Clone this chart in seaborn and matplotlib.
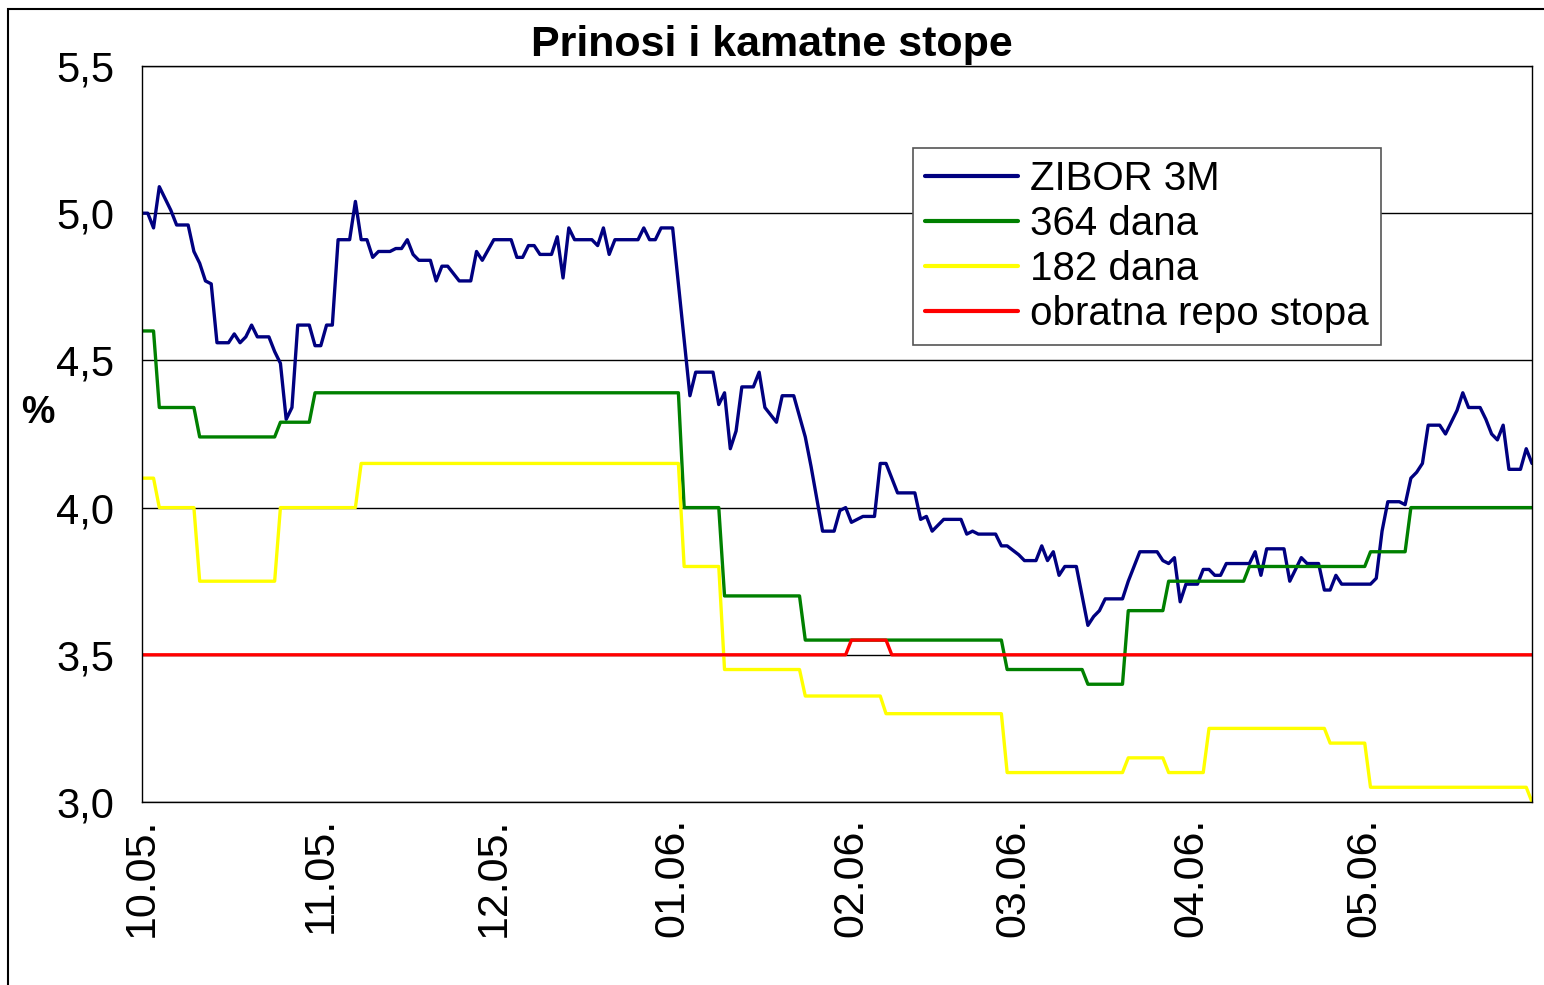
import pandas as pd
import numpy as np
import matplotlib
matplotlib.use("Agg")
import matplotlib.pyplot as plt
import matplotlib.dates as mdates
from matplotlib.ticker import FuncFormatter, MultipleLocator
from matplotlib.patches import Rectangle
import seaborn as sns

sns.set_style("white")
plt.rcParams['font.family'] = ['Liberation Sans', 'DejaVu Sans']
plt.rcParams['text.color'] = 'black'
plt.rcParams['xtick.color'] = 'black'
plt.rcParams['ytick.color'] = 'black'
plt.rcParams['axes.labelcolor'] = 'black'

# ZIBOR 3M (daily fixings)
zibor_dates = ["2005-10-01", "2005-10-02", "2005-10-03", "2005-10-04", "2005-10-05", "2005-10-06", "2005-10-07",
               "2005-10-09", "2005-10-10", "2005-10-11", "2005-10-12", "2005-10-13", "2005-10-14", "2005-10-16",
               "2005-10-17", "2005-10-18", "2005-10-19", "2005-10-20", "2005-10-21", "2005-10-23", "2005-10-24",
               "2005-10-25", "2005-10-26", "2005-10-27", "2005-10-28", "2005-10-30", "2005-10-31",
               "2005-11-01", "2005-11-02", "2005-11-03", "2005-11-04", "2005-11-06", "2005-11-07", "2005-11-08",
               "2005-11-09", "2005-11-10", "2005-11-11", "2005-11-13", "2005-11-14", "2005-11-15", "2005-11-16",
               "2005-11-17", "2005-11-18", "2005-11-20", "2005-11-21", "2005-11-22", "2005-11-23", "2005-11-25",
               "2005-11-27", "2005-11-28", "2005-11-29",
               "2005-12-01", "2005-12-04", "2005-12-05", "2005-12-06", "2005-12-07", "2005-12-08", "2005-12-09",
               "2005-12-11", "2005-12-12", "2005-12-13", "2005-12-14", "2005-12-15", "2005-12-18", "2005-12-19",
               "2005-12-20", "2005-12-21", "2005-12-22", "2005-12-26", "2005-12-27", "2005-12-28", "2005-12-29",
               "2005-12-30",
               "2006-01-01", "2006-01-04", "2006-01-05", "2006-01-08", "2006-01-09", "2006-01-10", "2006-01-11",
               "2006-01-12", "2006-01-13", "2006-01-15", "2006-01-16", "2006-01-17", "2006-01-19", "2006-01-20",
               "2006-01-22", "2006-01-23", "2006-01-24", "2006-01-25", "2006-01-27", "2006-01-29", "2006-01-30",
               "2006-01-31",
               "2006-02-01", "2006-02-02", "2006-02-03", "2006-02-05", "2006-02-06", "2006-02-07", "2006-02-08",
               "2006-02-09", "2006-02-12", "2006-02-13", "2006-02-14", "2006-02-15", "2006-02-17", "2006-02-20",
               "2006-02-21", "2006-02-22", "2006-02-23", "2006-02-26", "2006-02-27", "2006-02-28",
               "2006-03-02", "2006-03-03", "2006-03-05", "2006-03-06", "2006-03-07", "2006-03-08", "2006-03-09",
               "2006-03-10", "2006-03-12", "2006-03-13", "2006-03-14", "2006-03-15", "2006-03-16", "2006-03-17",
               "2006-03-20", "2006-03-21", "2006-03-22", "2006-03-23", "2006-03-26", "2006-03-27", "2006-03-28",
               "2006-03-29", "2006-03-30", "2006-03-31",
               "2006-04-02", "2006-04-03", "2006-04-04", "2006-04-05", "2006-04-06", "2006-04-07", "2006-04-11",
               "2006-04-12", "2006-04-13", "2006-04-14", "2006-04-17", "2006-04-18", "2006-04-20", "2006-04-21",
               "2006-04-23", "2006-04-24", "2006-04-25", "2006-04-26", "2006-04-27",
               "2006-05-02", "2006-05-03", "2006-05-04", "2006-05-05", "2006-05-07", "2006-05-08", "2006-05-09",
               "2006-05-10", "2006-05-11", "2006-05-12", "2006-05-14", "2006-05-15", "2006-05-17", "2006-05-18",
               "2006-05-19", "2006-05-21", "2006-05-22", "2006-05-23", "2006-05-24", "2006-05-25", "2006-05-26",
               "2006-05-28", "2006-05-29", "2006-05-30"]
zibor_vals = [5.00, 5.00, 4.95, 5.09, 5.05, 5.01, 4.96, 4.96, 4.87, 4.83, 4.77, 4.76, 4.56, 4.56, 4.59, 4.56,
              4.58, 4.62, 4.58, 4.58, 4.53, 4.49, 4.30, 4.34, 4.62, 4.62, 4.55,
              4.55, 4.62, 4.62, 4.91, 4.91, 5.04, 4.91, 4.91, 4.85, 4.87, 4.87, 4.88, 4.88, 4.91, 4.86, 4.84,
              4.84, 4.77, 4.82, 4.82, 4.77, 4.77, 4.87, 4.84,
              4.91, 4.91, 4.85, 4.85, 4.89, 4.89, 4.86, 4.86, 4.92, 4.78, 4.95, 4.91, 4.91, 4.89, 4.95, 4.86,
              4.91, 4.91, 4.95, 4.91, 4.91, 4.95,
              4.95, 4.38, 4.46, 4.46, 4.35, 4.39, 4.20, 4.26, 4.41, 4.41, 4.46, 4.34, 4.29, 4.38, 4.38, 4.31,
              4.24, 4.14, 3.92, 3.92, 3.99, 4.00,
              3.95, 3.96, 3.97, 3.97, 4.15, 4.15, 4.10, 4.05, 4.05, 3.96, 3.97, 3.92, 3.96, 3.96, 3.91, 3.92,
              3.91, 3.91, 3.87, 3.87,
              3.84, 3.82, 3.82, 3.87, 3.82, 3.85, 3.77, 3.80, 3.80, 3.70, 3.60, 3.63, 3.65, 3.69, 3.69, 3.75,
              3.80, 3.85, 3.85, 3.82, 3.81, 3.83, 3.68, 3.74,
              3.74, 3.79, 3.79, 3.77, 3.77, 3.81, 3.81, 3.85, 3.77, 3.86, 3.86, 3.75, 3.83, 3.81, 3.81, 3.72,
              3.72, 3.77, 3.74,
              3.74, 3.76, 3.92, 4.02, 4.02, 4.01, 4.10, 4.12, 4.15, 4.28, 4.28, 4.25, 4.33, 4.39, 4.34, 4.34,
              4.30, 4.25, 4.23, 4.28, 4.13, 4.13, 4.20, 4.15]

# 364-day T-bill yield (step changes at auctions)
t364_dates = ["2005-10-01", "2005-10-03", "2005-10-04", "2005-10-10", "2005-10-11", "2005-10-24", "2005-10-25",
              "2005-10-30", "2005-10-31", "2006-01-02", "2006-01-03", "2006-01-09", "2006-01-10", "2006-01-23",
              "2006-01-24", "2006-02-27", "2006-02-28", "2006-03-13", "2006-03-14", "2006-03-20", "2006-03-21",
              "2006-03-27", "2006-03-28", "2006-04-10", "2006-04-11", "2006-05-01", "2006-05-02", "2006-05-08",
              "2006-05-09", "2006-05-30"]
t364_vals = [4.60, 4.60, 4.34, 4.34, 4.24, 4.24, 4.29, 4.29, 4.39, 4.39, 4.00, 4.00, 3.70, 3.70, 3.55,
             3.55, 3.45, 3.45, 3.40, 3.40, 3.65, 3.65, 3.75, 3.75, 3.80, 3.80, 3.85, 3.85, 4.00, 4.00]

# 182-day T-bill yield
t182_dates = ["2005-10-01", "2005-10-03", "2005-10-04", "2005-10-10", "2005-10-11", "2005-10-24", "2005-10-25",
              "2005-11-07", "2005-11-08", "2006-01-02", "2006-01-03", "2006-01-09", "2006-01-10", "2006-01-23",
              "2006-01-24", "2006-02-06", "2006-02-07", "2006-02-27", "2006-02-28", "2006-03-20", "2006-03-21",
              "2006-03-27", "2006-03-28", "2006-04-03", "2006-04-04", "2006-04-24", "2006-04-25", "2006-05-01",
              "2006-05-02", "2006-05-29", "2006-05-30"]
t182_vals = [4.10, 4.10, 4.00, 4.00, 3.75, 3.75, 4.00, 4.00, 4.15, 4.15, 3.80, 3.80, 3.45, 3.45, 3.36, 3.36,
             3.30, 3.30, 3.10, 3.10, 3.15, 3.15, 3.10, 3.10, 3.25, 3.25, 3.20, 3.20, 3.05, 3.05, 3.00]

# reverse repo rate
repo_dates = ["2005-10-01", "2006-01-31", "2006-02-01", "2006-02-07", "2006-02-08", "2006-05-30"]
repo_vals = [3.50, 3.50, 3.55, 3.55, 3.50, 3.50]

series_names = ["ZIBOR 3M", "364 dana", "182 dana", "obratna repo stopa"]
series_colors = ["#000080", "#008000", "#FFFF00", "#FF0000"]

frames = []
for name, d, v in zip(series_names,
                      [zibor_dates, t364_dates, t182_dates, repo_dates],
                      [zibor_vals, t364_vals, t182_vals, repo_vals]):
    frames.append(pd.DataFrame({"datum": pd.to_datetime(d), "stopa": v, "serija": name}))
df = pd.concat(frames, ignore_index=True)

fig = plt.figure(figsize=(15.44, 9.85), dpi=100)
ax = fig.add_axes([142 / 1544, 1 - 802 / 985, (1532 - 142) / 1544, (802 - 66) / 985])

sns.lineplot(data=df, x="datum", y="stopa", hue="serija", hue_order=series_names,
             palette=dict(zip(series_names, series_colors)), estimator=None, sort=False,
             linewidth=2.4, ax=ax)

ax.set_xlim(pd.Timestamp("2005-10-01"), pd.Timestamp("2006-05-30"))
ax.set_ylim(3.0, 5.5)
ax.yaxis.set_major_locator(MultipleLocator(0.5))
ax.yaxis.set_major_formatter(FuncFormatter(lambda v, p: f"{v:.1f}".replace(".", ",")))
ax.xaxis.set_major_locator(mdates.MonthLocator())
ax.xaxis.set_major_formatter(mdates.DateFormatter("%m.%y."))
ax.tick_params(axis="x", labelsize=31, rotation=90, direction="out", length=7, width=1, pad=4, color="black")
ax.tick_params(axis="y", labelsize=30, direction="out", length=7, width=1, pad=13, color="black")
ax.yaxis.grid(True, color="black", linewidth=1)
ax.xaxis.grid(False)
for s in ax.spines.values():
    s.set_color("black")
    s.set_linewidth(1)
ax.set_xlabel("")
ax.set_ylabel("")

handles, labels = ax.get_legend_handles_labels()
leg = ax.legend(handles, labels, loc="upper left", bbox_to_anchor=(0.5547, 0.8886),
                fontsize=29, frameon=True, fancybox=False, framealpha=1, edgecolor="#555555",
                handlelength=2.3, handletextpad=0.3, labelspacing=0.17, borderpad=0.3, borderaxespad=0)
leg.get_frame().set_linewidth(1.2)
for h in leg.get_lines():
    h.set_linewidth(3)

fig.text(0.5, 1 - 45 / 985, "Prinosi i kamatne stope", ha="center", va="center",
         fontsize=31, fontweight="bold")
fig.text(38 / 1544, 1 - 413 / 985, "%", ha="center", va="center", fontsize=27, fontweight="bold")

# outer chart border like the Excel chart area
fig.patches.append(Rectangle((8 / 1544, -0.05), 1.2, 1 - 9 / 985 + 0.05, transform=fig.transFigure,
                             fill=False, edgecolor="black", linewidth=1.5))

fig.savefig("out.png", dpi=100)
